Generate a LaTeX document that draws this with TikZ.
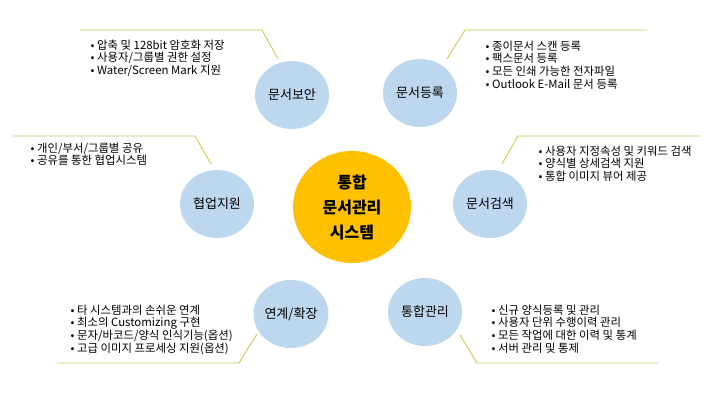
\documentclass[tikz,border=0pt]{standalone}
\usepackage{fontspec}
\setmainfont{Noto Sans CJK KR}
\usetikzlibrary{shapes.geometric}
\definecolor{bubble}{RGB}{189,215,238}
\definecolor{hub}{RGB}{255,192,0}
\definecolor{callout}{RGB}{181,214,86}
\tikzset{
  topic/.style={ellipse,fill=bubble,minimum width=74pt,minimum height=68pt,inner sep=0pt,font=\fontsize{13}{15}\selectfont},
  center/.style={ellipse,fill=hub,minimum width=118pt,minimum height=112pt,inner sep=0pt,align=center,font=\fontsize{16}{25}\selectfont\bfseries},
  items/.style={anchor=north west,align=left,inner sep=0pt,font=\fontsize{11.4}{12.8}\selectfont},
  leader/.style={draw=callout,line width=0.9pt}
}
\begin{document}
\begin{tikzpicture}[x=1pt,y=-1pt]
\useasboundingbox (0,0) rectangle (710,404);
\fill[white] (0,0) rectangle (710,404);
% center
\node[center] (hub) at (352,207) {통합\\문서관리\\시스템};
% topics
\node[topic] (sec) at (292,95) {문서보안};
\node[topic] (reg) at (420,93) {문서등록};
\node[topic] (col) at (217,204) {협업지원};
\node[topic] (sea) at (490,204) {문서검색};
\node[topic] (ext) at (291,314) {연계/확장};
\node[topic] (man) at (425,312) {통합관리};
% leader lines
\coordinate (secA) at (80,30);  \coordinate (secB) at (262,30);  \coordinate (secC) at (278,59);
\draw[leader] (secA) -- (secB) -- (secC);
\coordinate (regA) at (447,59); \coordinate (regB) at (465,30);  \coordinate (regC) at (647,30);
\draw[leader] (regA) -- (regB) -- (regC);
\coordinate (colA) at (13,136); \coordinate (colB) at (195,136); \coordinate (colC) at (211,164);
\draw[leader] (colA) -- (colB) -- (colC);
\coordinate (seaA) at (502,164); \coordinate (seaB) at (518,136); \coordinate (seaC) at (700,136);
\draw[leader] (seaA) -- (seaB) -- (seaC);
\coordinate (extA) at (57,363); \coordinate (extB) at (239,363); \coordinate (extC) at (257,334);
\draw[leader] (extA) -- (extB) -- (extC);
\coordinate (manA) at (460,335); \coordinate (manB) at (477,363); \coordinate (manC) at (658,363);
\draw[leader] (manA) -- (manB) -- (manC);
% item texts
\node[items] (secT) at (90.5,39.5) {• 압축 및 128bit 암호화 저장\\• 사용자/그룹별 권한 설정\\• Water/Screen Mark 지원};
\node[items] (regT) at (485.5,40.5) {• 종이문서 스캔 등록\\• 팩스문서 등록\\• 모든 인쇄 가능한 전자파일\\• Outlook E-Mail 문서 등록};
\node[items] (colT) at (30.5,142.5) {• 개인/부서/그룹별 공유\\• 공유를 통한 협업시스템};
\node[items] (seaT) at (538.5,145.5) {• 사용자 지정속성 및 키워드 검색\\• 양식별 상세검색 지원\\• 통합 이미지 뷰어 제공};
\node[items] (extT) at (70.5,304.5) {• 타 시스템과의 손쉬운 연계\\• 최소의 Customizing 구현\\• 문자/바코드/양식 인식기능(옵션)\\• 고급 이미지 프로세싱 지원(옵션)};
\node[items] (manT) at (491.5,304.5) {• 신규 양식등록 및 관리\\• 사용자 단위 수행이력 관리\\• 모든 작업에 대한 이력 및 통계\\• 서버 관리 및 통제};
\end{tikzpicture}
\end{document}
